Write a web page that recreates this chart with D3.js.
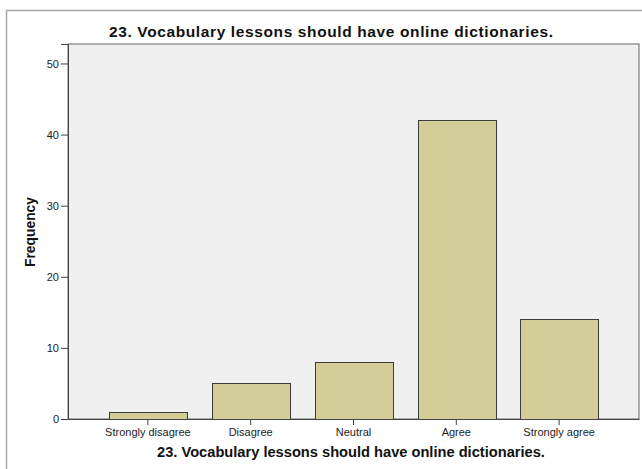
<!DOCTYPE html>
<html><head><meta charset="utf-8">
<script src="https://cdn.jsdelivr.net/npm/d3@7"></script>
<style>body{margin:0;background:#fff}svg{display:block}text{font-family:"Liberation Sans",Arial,sans-serif}</style>
</head><body>
<script>
const categories = ["Strongly disagree","Disagree","Neutral","Agree","Strongly agree"];
const frequencies = [1,5,8,42,14];
const yTicks = [0,10,20,30,40,50];
const titleText = "23. Vocabulary lessons should have online dictionaries.";
const yLabel = "Frequency";

const W=642,H=469;
const svg=d3.select("body").append("svg").attr("width",W).attr("height",H);
svg.append("rect").attr("x",6.5).attr("y",10.5).attr("width",W+10).attr("height",H+10)
  .attr("fill","#fff").attr("stroke","#a8a8a8").attr("stroke-width",1.5);

const L=68,R=639,T=44,B=419;
const x=d3.scaleBand().domain(categories).range([L,R]).paddingInner(0.246).paddingOuter(0.40);
const y=d3.scaleLinear().domain([0,52.74]).range([B,T]);

svg.append("rect").attr("x",L).attr("y",T).attr("width",R-L).attr("height",B-T)
  .attr("fill","#f0f0f0").attr("stroke","#666").attr("stroke-width",1);

svg.append("g").selectAll("rect").data(frequencies).join("rect")
  .attr("x",(d,i)=>Math.round(x(categories[i]))+0.5)
  .attr("y",d=>Math.round(y(d))+0.5)
  .attr("width",Math.round(x.bandwidth()))
  .attr("height",d=>Math.round(B-y(d)))
  .attr("fill","#d3ce97").attr("stroke","#3c3c3c").attr("stroke-width",1);

const yAxis=svg.append("g").attr("transform",`translate(${L},0)`)
  .call(d3.axisLeft(y).tickValues(yTicks).tickSize(7).tickPadding(2).tickFormat(d3.format("d")));
yAxis.select(".domain").attr("stroke","#444");
yAxis.selectAll(".tick line").attr("stroke","#444");
yAxis.selectAll("text").attr("font-size",11).attr("fill","#222").attr("font-family","Liberation Sans, Arial, sans-serif");

const xAxis=svg.append("g").attr("transform",`translate(0,${B})`)
  .call(d3.axisBottom(x).tickSize(6).tickPadding(3).tickSizeOuter(0));
xAxis.select(".domain").attr("stroke","#444");
xAxis.selectAll(".tick line").attr("stroke","#444");
xAxis.selectAll("text").attr("font-size",11).attr("fill","#222").attr("font-family","Liberation Sans, Arial, sans-serif");

function fit(sel, target){
  const w=sel.node().getComputedTextLength();
  const fs=parseFloat(sel.attr("font-size"));
  sel.attr("font-size",(fs*target/w).toFixed(2));
}
svg.append("text").attr("x",331).attr("y",37).attr("text-anchor","middle")
  .attr("font-size",15.5).attr("font-weight","bold").attr("fill","#111")
  .attr("textLength",444).attr("lengthAdjust","spacing").text(titleText);
const t2=svg.append("text").attr("x",351).attr("y",457).attr("text-anchor","middle")
  .attr("font-size",14).attr("font-weight","bold").attr("fill","#111").text(titleText);
fit(t2,388);
const t3=svg.append("text").attr("transform",`translate(35,232) rotate(-90)`).attr("text-anchor","middle")
  .attr("font-size",14).attr("font-weight","bold").attr("fill","#111").text(yLabel);
fit(t3,70);
</script>
</body></html>
